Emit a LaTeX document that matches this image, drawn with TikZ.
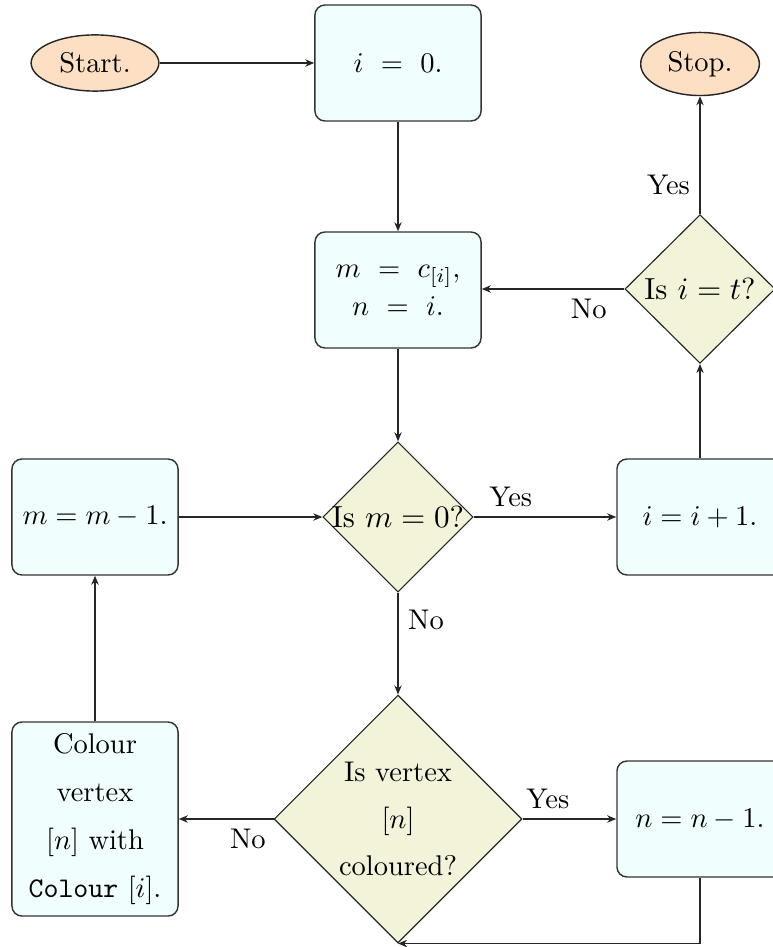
\documentclass[tikz,border=0pt]{standalone}
\usetikzlibrary{shapes.geometric,arrows.meta}
\definecolor{termfill}{RGB}{253,223,195}
\definecolor{procfill}{RGB}{240,254,254}
\definecolor{decfill}{RGB}{243,243,218}
\begin{document}
\begin{tikzpicture}[x=0.351pt,y=-0.351pt,
  term/.style={ellipse,draw=black!85,fill=termfill,line width=0.5pt},
  proc/.style={rectangle,rounded corners=3.5pt,draw=black!80,fill=procfill,line width=0.5pt,
    minimum width=58.3pt,minimum height=40.7pt,align=center,inner sep=2pt},
  dec/.style={diamond,draw=black!85,fill=decfill,line width=0.4pt,inner sep=0pt},
  dectext/.style={inner sep=0pt,font=\fontsize{10.7pt}{12.8pt}\selectfont},
  arr/.style={-{Stealth[length=3.2pt,width=2.6pt]},line width=0.45pt,draw=black!85},
  lab/.style={inner sep=3.33pt}]
\useasboundingbox (0,0) rectangle (772,947);
% nodes
\node[term] (start) at (95,63) {Start.};
\node[proc] (i0) at (398,63) {$i\ =\ 0.$};
\node[term] (stop) at (700,64) {Stop.};
\node[proc] (mc) at (398,290) {$m\ =\ c_{[i]},$\\[1.3pt]$n\ =\ i.$};
\node[dec,minimum width=52.7pt,minimum height=52.2pt] (dit) at (700,289) {};
\node[dectext] (ditt) at (dit.center) {Is $i=t$?};
\node[proc] (mm) at (95,517) {$m=m-1.$};
\node[dec,minimum width=52.7pt,minimum height=52.7pt] (dm) at (398,517) {};
\node[dectext] (dmt) at (dm.center) {Is $m=0$?};
\node[proc] (ii) at (700,517) {$i=i+1.$};
\node[proc,minimum height=68.1pt] (col) at (95,819) {Colour\\[4.9pt]vertex\\[4.9pt]$[n]$ with\\[4.9pt]\texttt{Colour} $[i]$.};
\node[dec,minimum width=87pt,minimum height=87pt] (dv) at (398,819) {};
\node[align=center] (dvt) at (dv.center) {Is vertex\\[4.5pt]$[n]$\\[4.5pt]coloured?};
\node[proc] (nn) at (700,819) {$n=n-1.$};
% connectors
\draw[arr] (start) -- (i0);
\draw[arr] (i0) -- (mc);
\draw[arr] (mc) -- (dm);
\draw[arr] (dit.north) -- node[lab,pos=0.25,left] {Yes} (stop);
\draw[arr] (dit.west) -- node[lab,pos=0.25,below] {No} (mc.east |- dit.west);
\draw[arr] (mm) -- (dm.west);
\draw[arr] (dm.east) -- node[lab,pos=0.26,above] {Yes} (ii);
\draw[arr] (ii) -- (dit.south);
\draw[arr] (dm.south) -- node[lab,pos=0.27,right] {No} (dv.north);
\draw[arr] (dv.west) -- node[lab,pos=0.27,below] {No} (col);
\draw[arr] (col) -- (mm);
\draw[arr] (dv.east) -- node[lab,pos=0.27,above] {Yes} (nn);
\draw[arr] (nn.south) |- (dv.south);
\end{tikzpicture}
\end{document}
